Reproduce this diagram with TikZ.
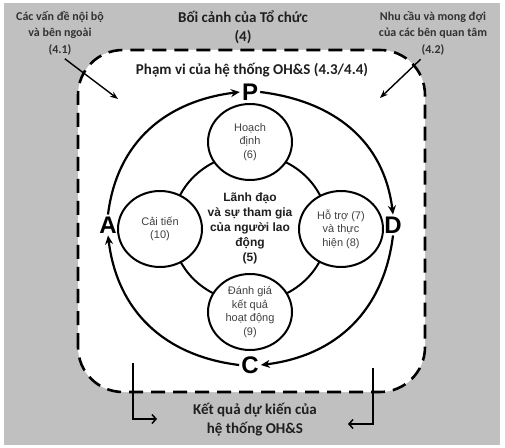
\documentclass[tikz,border=0pt]{standalone}
\usepackage{fontspec}
\setmainfont{Carlito}
\newfontfamily\arialf{Liberation Sans}
\usetikzlibrary{arrows.meta,shapes.geometric}
\definecolor{bggray}{RGB}{192,192,192}
\definecolor{lblgray}{RGB}{50,50,50}
\definecolor{circtxt}{RGB}{65,65,65}
\begin{document}
\begin{tikzpicture}[x=1pt,y=1pt,
  outerlbl/.style={font=\fontsize{12}{16.5}\selectfont\bfseries, text=lblgray, align=center, inner sep=0pt},
  titlelbl/.style={font=\fontsize{15}{19}\selectfont\bfseries, text=black!88, align=center, inner sep=0pt},
  pdca/.style={font=\arialf\fontsize{24}{24}\selectfont\bfseries, inner sep=2pt},
  stepcirc/.style={ellipse, draw, line width=2pt, fill=white, minimum width=84pt, minimum height=76pt, inner sep=0pt, align=center, text=circtxt, font=\arialf\fontsize{11}{13.5}\selectfont},
  ringnode/.style={ellipse, draw, line width=2pt, minimum width=156pt, minimum height=148pt, inner sep=0pt, align=center, text=black!88, font=\arialf\fontsize{12}{15}\selectfont\bfseries},
  cyc/.style={line width=2.2pt, -{Stealth[length=9pt,width=8pt]}},
  lblarrow/.style={line width=1.4pt, -{Stealth[length=8pt,width=6pt]}},
  barbarrow/.style={line width=1.5pt, -{Straight Barb[length=4pt,width=9pt]}},
  scopebox/.style={fill=white, line width=2.6pt, dash pattern=on 14pt off 8pt, rounded corners=45pt}
]
\useasboundingbox (0,0) rectangle (505,447);
\fill[white] (0,0) rectangle (505,447);
\fill[bggray] (4,2) rectangle (500,444);
\draw[scopebox] (78,55) rectangle (425,397);

% outer labels
\node[titlelbl] (ctx) at (243,419.5) {Bối cảnh của Tổ chức\\(4)};
\node[outerlbl] (l41) at (60,414) {Các vấn đề nội bộ\\và bên ngoài\\(4.1)};
\node[outerlbl] (l42) at (433,414) {Nhu cầu và mong đợi\\của các bên quan tâm\\(4.2)};
\node[titlelbl] (scope) at (252,377) {Phạm vi của hệ thống OH\&S (4.3/4.4)};
\node[titlelbl] (res) at (255,27.5) {Kết quả dự kiến của\\hệ thống OH\&S};

% PDCA letters
\node[pdca] (P) at (250,355) {P};
\node[pdca] (D) at (393,222) {D};
\node[pdca] (A) at (108,222) {A};
\node[pdca] (C) at (250,82) {C};

% centre and steps
\node[ringnode] (lead) at (250,219) {Lãnh đạo\\và sự tham gia\\của người lao\\động\\(5)};
\node[stepcirc] (plan) at (250,305) {Hoạch\\định\\(6)};
\node[stepcirc] (support) at (341,218) {Hỗ trợ (7)\\và thực\\hiện (8)};
\node[stepcirc] (improve) at (160,218) {Cải tiến\\(10)};
\node[stepcirc] (eval) at (250,135) {Đánh giá\\kết quả\\hoạt động\\(9)};

% cycle arrows
\draw[cyc] (P.east) to[out=-7,in=97,looseness=1.05] (D.north);
\draw[cyc] (D.south) to[out=-97,in=7,looseness=1.05] (C.east);
\draw[cyc] (C.west) to[out=173,in=-83,looseness=1.05] (A.south);
\draw[cyc] (A.north) to[out=83,in=187,looseness=1.05] (P.west);

% label arrows
\coordinate (in41) at (118,348);
\coordinate (in42) at (380,349);
\draw[lblarrow, shorten <=6pt] (l41.south) -- (in41);
\draw[lblarrow, shorten <=6pt] ([xshift=-8pt]l42.south) -- (in42);

% result arrows
\coordinate (bls) at (133,84);
\coordinate (ble) at (157,28);
\coordinate (brs) at (373,79);
\coordinate (bre) at (348,23);
\draw[barbarrow] (bls) |- (ble);
\draw[barbarrow] (brs) |- (bre);
\end{tikzpicture}
\end{document}
